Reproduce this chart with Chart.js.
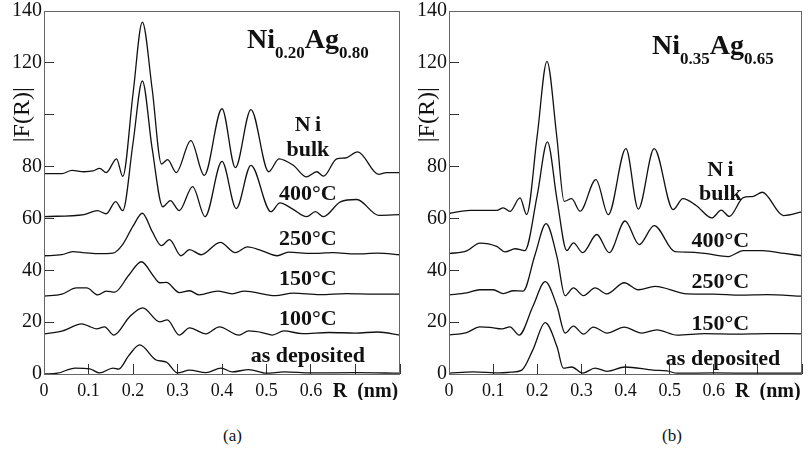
<!DOCTYPE html>
<html>
<head>
<meta charset="utf-8">
<script src="https://cdn.jsdelivr.net/npm/chart.js@4.4.1/dist/chart.umd.min.js"></script>
<style>
  body { margin: 0; background: #fff; }
  #wrap { position: relative; width: 808px; height: 455px; }
  .panel { position: absolute; top: 0; width: 404px; height: 400px; }
  .cap { position: absolute; top: 426px; font: 17px "Liberation Serif", serif; color: #111; }
</style>
</head>
<body>
<div id="wrap">
  <div class="panel" style="left:0"><canvas id="chartA"></canvas></div>
  <div class="panel" style="left:404px"><canvas id="chartB"></canvas></div>
  <div class="cap" style="left:223px">(a)</div>
  <div class="cap" style="left:662px">(b)</div>
</div>
<script>
// |F(R)| curves, pairs of [R (nm), |F(R)|]
// (a) Ni0.20Ag0.80
const aNiBulk = [[0,77.3],[0.04,77.3],[0.063,78.5],[0.09,78],[0.11,78.3],[0.125,79.3],[0.14,77.7],[0.163,83],[0.177,76.2],[0.2,108],[0.221,135.7],[0.243,110],[0.264,81],[0.278,82.7],[0.297,77.7],[0.33,90],[0.36,76.6],[0.40,102.3],[0.43,79.6],[0.465,102],[0.505,78],[0.528,83],[0.56,80.5],[0.59,76],[0.613,78],[0.628,76.3],[0.658,83],[0.677,83.3],[0.705,85.7],[0.752,77],[0.77,77.7],[0.8,77.7]];
const a400 = [[0,60.7],[0.09,61.5],[0.12,63],[0.14,61.8],[0.161,66.5],[0.177,63],[0.2,89],[0.221,113],[0.243,87],[0.267,64.5],[0.284,66.9],[0.304,63],[0.334,72.3],[0.362,60.7],[0.40,82],[0.432,63.8],[0.465,80.5],[0.51,62.6],[0.53,66],[0.56,63.5],[0.59,60.7],[0.61,62.6],[0.628,60.7],[0.666,66.4],[0.703,67.3],[0.752,61.2],[0.8,61.5]];
const a250 = [[0,45.6],[0.04,46],[0.065,47.2],[0.087,46.8],[0.12,46.4],[0.155,46.6],[0.177,50],[0.2,57],[0.221,62],[0.243,55],[0.264,49.5],[0.282,51.8],[0.308,45.6],[0.327,48],[0.353,46],[0.396,50.8],[0.43,46.8],[0.457,49],[0.49,47.5],[0.524,45.6],[0.55,47],[0.6,46.5],[0.65,46.8],[0.7,46.3],[0.75,46.6],[0.8,46]];
const a150 = [[0,30],[0.04,30.8],[0.073,33.2],[0.096,33.2],[0.121,30.5],[0.14,32],[0.159,31.6],[0.19,38],[0.219,43.3],[0.245,38],[0.26,35.2],[0.275,35.3],[0.304,31.4],[0.327,32.1],[0.349,30.5],[0.39,32],[0.423,30.9],[0.45,32],[0.52,30.2],[0.56,31.2],[0.62,30.6],[0.68,31],[0.74,30.8],[0.8,30.8]];
const a100 = [[0,15.5],[0.04,16.5],[0.085,19.3],[0.103,18.3],[0.118,17.4],[0.136,18.2],[0.157,15],[0.192,22],[0.222,25.5],[0.26,20.1],[0.277,20.9],[0.304,15],[0.327,17.8],[0.364,15.5],[0.394,18.2],[0.438,15],[0.46,16.6],[0.49,16],[0.513,15],[0.539,16.6],[0.58,15.6],[0.64,16],[0.7,15.8],[0.75,16.2],[0.8,15]];
const aAsDep = [[0,0],[0.03,0.3],[0.07,2.3],[0.103,2],[0.125,0.4],[0.155,2.3],[0.168,1.9],[0.19,7],[0.215,11.2],[0.252,5.4],[0.275,4.6],[0.3,0.4],[0.327,1.5],[0.364,0.5],[0.398,2.3],[0.423,0.8],[0.46,1.7],[0.5,0.3],[0.54,0.8],[0.6,0.4],[0.7,0.5],[0.8,0.3]];

// (b) Ni0.35Ag0.65
const bNiBulk = [[0,61.9],[0.048,63.1],[0.108,63.1],[0.123,64.1],[0.138,62.7],[0.161,67.9],[0.176,61.5],[0.2,92],[0.222,120.6],[0.244,92],[0.261,66.6],[0.278,67.6],[0.297,62.8],[0.333,75],[0.361,61.5],[0.401,86.9],[0.429,63.6],[0.465,86.9],[0.508,63.4],[0.53,67.6],[0.56,65],[0.596,60.2],[0.617,63.2],[0.635,60.8],[0.667,68],[0.69,68.5],[0.71,70.1],[0.758,61.1],[0.8,62.5]];
const b400 = [[0,46.4],[0.04,47.5],[0.07,50.5],[0.108,49.2],[0.127,47.1],[0.15,48.3],[0.172,47.6],[0.2,69],[0.223,89.5],[0.245,67],[0.267,47.6],[0.282,50.6],[0.303,46.8],[0.335,53.8],[0.363,46.8],[0.399,59],[0.431,49.9],[0.465,57.2],[0.512,47.2],[0.54,47],[0.58,46.5],[0.633,45.3],[0.667,47.6],[0.71,47.6],[0.76,46.5],[0.8,45.6]];
const b250 = [[0,30.5],[0.04,31.3],[0.07,32.5],[0.1,32.5],[0.123,31],[0.146,32.1],[0.168,32],[0.195,46],[0.22,58],[0.245,45],[0.263,30.2],[0.282,33.2],[0.305,30.2],[0.331,33.2],[0.358,30.9],[0.397,35.2],[0.429,32.5],[0.467,33.8],[0.54,30.9],[0.6,30.8],[0.66,30.4],[0.72,30.6],[0.8,30]];
const b150 = [[0,15],[0.04,16],[0.07,18.2],[0.093,18],[0.12,17.4],[0.138,18.2],[0.159,15],[0.19,26],[0.218,35.6],[0.245,26],[0.263,15.8],[0.282,18.5],[0.305,15.4],[0.327,18.1],[0.358,15.8],[0.397,18.1],[0.437,15.8],[0.471,17],[0.517,15],[0.58,15.6],[0.65,15.4],[0.72,15.6],[0.8,15.5]];
const bAsDep = [[0,0.3],[0.055,0.8],[0.115,0.4],[0.14,0.7],[0.165,1.5],[0.19,9.3],[0.218,19.8],[0.245,10.4],[0.259,2.3],[0.278,2.7],[0.303,0.3],[0.331,2.3],[0.358,1],[0.399,2.7],[0.463,1.5],[0.494,1.2],[0.517,0.3],[0.6,0.4],[0.7,0.3],[0.8,0.3]];

const xTickLabels = ['0', '0.1', '0.2', '0.3', '0.4', '0.5', '0.6', '    R  (nm)', ''];
const yTickLabels = ['0', '20', '40', '60', '80', '', '120', '140'];
const yTitle = '|F(R)|';

const serif = '"Liberation Serif", "Times New Roman", serif';

// text drawn on top of the plot: frame, curve names, composition, y title
const notesPlugin = {
  id: 'notes',
  afterDatasetsDraw(chart, args, opts) {
    const { ctx, chartArea: a, scales: { x, y } } = chart;
    ctx.save();
    ctx.strokeStyle = '#666';
    ctx.lineWidth = 1;
    ctx.strokeRect(Math.round(a.left) + 0.5, Math.round(a.top) + 0.5,
      Math.round(a.width) - 1, Math.round(a.height));

    ctx.fillStyle = '#111';
    ctx.textAlign = 'center';
    ctx.textBaseline = 'alphabetic';
    ctx.font = 'bold 22px ' + serif;
    opts.notes.forEach(n => ctx.fillText(n.text, x.getPixelForValue(n.r), y.getPixelForValue(n.f)));

    // composition with subscripts
    let px = x.getPixelForValue(opts.title.r);
    const py = y.getPixelForValue(opts.title.f);
    ctx.textAlign = 'left';
    opts.title.parts.forEach(([txt, sub]) => {
      ctx.font = sub ? 'bold 17px ' + serif : 'bold 28px ' + serif;
      ctx.fillText(txt, px, sub ? py + 10 : py);
      px += ctx.measureText(txt).width;
    });

    // rotated y title in place of the 100 label
    ctx.translate(a.left - 21, y.getPixelForValue(100));
    ctx.rotate(-Math.PI / 2);
    ctx.textAlign = 'center';
    ctx.textBaseline = 'middle';
    ctx.font = '24px ' + serif;
    ctx.fillText(yTitle, 0, 0);
    ctx.restore();
  }
};

function makeChart(id, series, yWidth, rightPad, notes, title) {
  new Chart(document.getElementById(id), {
    type: 'line',
    data: {
      datasets: series.map(s => ({
        data: s.map(p => ({ x: p[0], y: p[1] })),
        borderColor: '#111',
        borderWidth: 1.3,
        pointRadius: 0,
        cubicInterpolationMode: 'monotone',
        fill: false
      }))
    },
    options: {
      responsive: true,
      maintainAspectRatio: false,
      animation: false,
      layout: { padding: { top: 11, right: rightPad, left: 0, bottom: 0 } },
      plugins: {
        legend: { display: false },
        tooltip: { enabled: false },
        notes: { notes, title }
      },
      scales: {
        x: {
          type: 'linear',
          min: 0, max: 0.8,
          afterFit: s => { s.height = 26; s.paddingLeft = 0; s.paddingRight = 0; },
          border: { display: false },
          grid: { drawOnChartArea: false, drawTicks: true, tickLength: -10, color: '#333' },
          ticks: {
            stepSize: 0.1, autoSkip: false, maxRotation: 0, padding: 18,
            color: '#111',
            font: c => c.index === 7 ? { family: serif, size: 20, weight: 'bold', lineHeight: 1 }
                                      : { family: serif, size: 18, lineHeight: 1 },
            callback: (v, i) => xTickLabels[i]
          }
        },
        y: {
          min: 0, max: 140,
          afterFit: s => { s.width = yWidth; s.paddingTop = 0; s.paddingBottom = 0; },
          border: { display: false },
          grid: { drawOnChartArea: false, drawTicks: true, tickLength: -10, color: '#333' },
          ticks: {
            stepSize: 20, padding: 12,
            color: '#111',
            font: { family: serif, size: 20, lineHeight: 1 },
            callback: (v, i) => yTickLabels[i]
          }
        }
      }
    },
    plugins: [notesPlugin]
  });
}

makeChart('chartA', [aNiBulk, a400, a250, a150, a100, aAsDep], 44, 4, [
  { text: 'N\u2009i', r: 0.593, f: 93.6 },
  { text: 'bulk', r: 0.593, f: 83.9 },
  { text: '400°C', r: 0.593, f: 67.3 },
  { text: '250°C', r: 0.593, f: 49.9 },
  { text: '150°C', r: 0.593, f: 34.4 },
  { text: '100°C', r: 0.593, f: 18.9 },
  { text: 'as deposited', r: 0.593, f: 4.6 }
], { r: 0.456, f: 125.7, parts: [['Ni', false], ['0.20', true], ['Ag', false], ['0.80', true]] });

makeChart('chartB', [bNiBulk, b400, b250, b150, bAsDep], 45, 6, [
  { text: 'N\u2009i', r: 0.615, f: 76.2 },
  { text: 'bulk', r: 0.615, f: 67.3 },
  { text: '400°C', r: 0.615, f: 49.1 },
  { text: '250°C', r: 0.615, f: 33.3 },
  { text: '150°C', r: 0.615, f: 17 },
  { text: 'as deposited', r: 0.621, f: 3.5 }
], { r: 0.46, f: 123.4, parts: [['Ni', false], ['0.35', true], ['Ag', false], ['0.65', true]] });
</script>
</body>
</html>
